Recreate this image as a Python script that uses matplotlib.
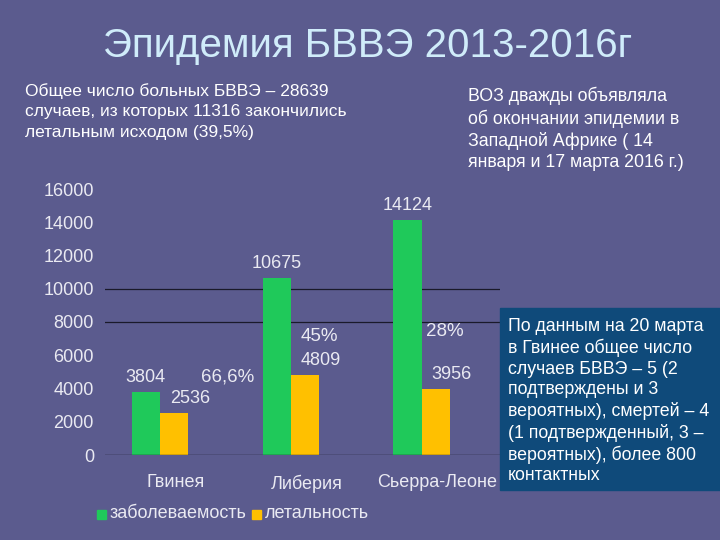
import matplotlib.pyplot as plt
from matplotlib.patches import Rectangle

# data
countries = ['Гвинея', 'Либерия', 'Сьерра-Леоне']
cases = [3804, 10675, 14124]
deaths = [2536, 4809, 3956]
pct_labels = ['66,6%', '45%', '28%']
legend_labels = ['заболеваемость', 'летальность']
yticks = [0, 2000, 4000, 6000, 8000, 10000, 12000, 14000, 16000]

bg = '#5b5b8e'
green = '#1fc95a'
yellow = '#ffc000'
txt = '#eaeaf2'

plt.rcParams['font.family'] = ['Liberation Sans', 'DejaVu Sans']

fig = plt.figure(figsize=(7.2, 5.4), dpi=100)
fig.patch.set_facecolor(bg)

ax = fig.add_axes([105/720, 1-455/540, 395/720, 266/540])
ax.set_facecolor('none')

x = range(len(countries))
w = 0.215
ax.bar([i - w/2 for i in x], cases, width=w, color=green, zorder=3)
ax.bar([i + w/2 for i in x], deaths, width=w, color=yellow, zorder=3)

for i in x:
    ax.text(i - w/2, cases[i] + 350, str(cases[i]), ha='center', va='bottom',
            color=txt, fontsize=13)
    ax.text(i + w/2 + 0.12, deaths[i] + 350, str(deaths[i]), ha='center', va='bottom',
            color=txt, fontsize=13)

# percentages
ax.text(0.52, 4700, pct_labels[0], color=txt, fontsize=13.5, ha='center', va='center')
ax.text(1.22, 7100, pct_labels[1], color=txt, fontsize=13.5, ha='center', va='center')
ax.text(2.18, 7400, pct_labels[2], color=txt, fontsize=13.5, ha='center', va='center')

ax.axhline(8000, color='#1a1a2a', lw=0.9, zorder=1)
ax.axhline(10000, color='#1a1a2a', lw=0.9, zorder=1)
ax.axhline(0, color='#1a1a2a', lw=1.0, zorder=4)

ax.set_xlim(-0.42, 2.6)
ax.set_ylim(0, 16000)
ax.set_yticks(yticks)
ax.set_yticklabels([str(v) for v in yticks], color=txt, fontsize=13)
ax.set_xticks([i + 0.12 for i in x])
ax.set_xticklabels(countries, color=txt, fontsize=13)
ax.tick_params(axis='both', length=0, pad=8)
ax.tick_params(axis='x', pad=14)
for s in ax.spines.values():
    s.set_visible(False)

# legend
fig.patches.append(Rectangle((97/720, 1-519/540), 9/720, 9/540, color=green,
                             transform=fig.transFigure))
fig.text(110/720, 1-514/540, legend_labels[0], color=txt, fontsize=13, va='center')
fig.patches.append(Rectangle((252/720, 1-519/540), 9/720, 9/540, color=yellow,
                             transform=fig.transFigure))
fig.text(265/720, 1-514/540, legend_labels[1], color=txt, fontsize=13, va='center')

# title and notes
fig.text(368/720, 1-46/540, 'Эпидемия БВВЭ 2013-2016г', color='#d0ecfa',
         fontsize=29, ha='center', va='center')
fig.text(25/720, 1-83/540,
         'Общее число больных БВВЭ – 28639\nслучаев, из которых 11316 закончились\nлетальным исходом (39,5%)',
         color='white', fontsize=12.5, va='top', linespacing=1.45)
fig.text(468/720, 1-87/540,
         'ВОЗ дважды объявляла\nоб окончании эпидемии в\nЗападной Африке ( 14\nянваря и 17 марта 2016 г.)',
         color='white', fontsize=12.8, va='top', linespacing=1.3)

# info box
fig.patches.append(Rectangle((500/720, 1-490/540), 220/720, 182/540, color='#0f4a7a',
                             transform=fig.transFigure, zorder=10))
fig.text(508/720, 1-318/540,
         'По данным на 20 марта\nв Гвинее общее число\nслучаев БВВЭ – 5 (2\nподтверждены и 3\nвероятных), смертей – 4\n(1 подтвержденный, 3 –\nвероятных), более 800\nконтактных',
         color='white', fontsize=12.8, va='top', linespacing=1.27, zorder=11)

fig.savefig('out.png', dpi=100, facecolor=bg)
